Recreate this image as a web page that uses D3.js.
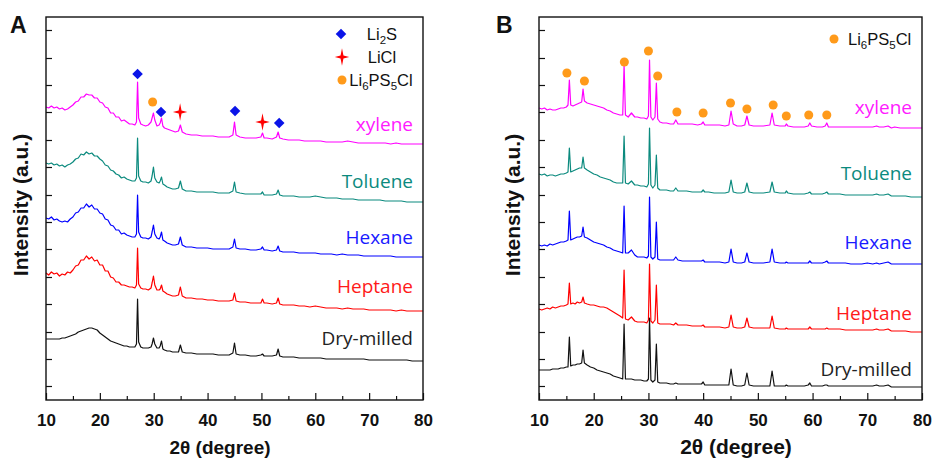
<!DOCTYPE html>
<html>
<head>
<meta charset="utf-8">
<script src="https://cdn.jsdelivr.net/npm/d3@7"></script>
<style>
  html, body { margin: 0; padding: 0; background: #fff; }
  svg { display: block; }
</style>
</head>
<body>
<div id="chart"></div>
<script>
// ---- data (intensity in a.u., stacked traces) ----
const twoThetaA = [
  10, 10.5, 11, 11.5, 12, 12.5, 13, 13.5, 14, 14.5,
  15, 15.5, 16, 16.5, 17, 17.5, 18, 18.5, 19, 19.5,
  20, 20.5, 21, 21.5, 22, 22.5, 23, 23.5, 24, 24.5,
  25, 25.5, 26, 26.5, 26.8, 27, 27.2, 27.6,
  28, 28.5, 29, 29.5, 29.7, 29.95, 30.2, 30.6,
  31, 31.2, 31.45, 31.7, 32, 32.5, 33, 33.5,
  34, 34.6, 34.95, 35.3, 36, 37, 38, 39,
  40, 41, 42, 43, 44, 44.7, 45, 45.3,
  46, 47, 48, 49, 49.9, 50.2, 50.5, 51,
  52, 52.8, 53.1, 53.4, 54, 55, 56, 57,
  58, 59, 60, 61, 62, 63, 64, 65, 66, 67,
  68, 69, 70, 71, 72, 73, 74, 75, 76, 77, 78, 79, 80
]

const xyleneA = [
  293, 292, 294, 292, 293, 291, 292, 290, 291, 293,
  295, 298, 299, 303, 303, 306, 305, 305, 302, 302,
  298, 297, 293, 292, 287, 287, 283, 283, 279, 280,
  278, 276, 276, 275, 278, 318, 282, 276,
  275, 274, 275, 278, 282, 287, 280, 274,
  275, 277, 282, 274, 272, 271, 270, 269,
  268, 269, 275, 268, 266, 265, 265, 264,
  264, 264, 263, 263, 263, 265, 278, 265,
  263, 262, 262, 262, 263, 267, 262, 262,
  261, 263, 268, 262, 261, 260, 260, 260,
  259, 259, 259, 259, 258, 258, 258, 258, 259, 258,
  257, 257, 257, 257, 257, 257, 256, 257, 256, 256, 256, 256, 256
]
const tolueneA = [
  237, 236, 237, 235, 236, 234, 235, 233, 235, 236,
  238, 241, 242, 246, 245, 248, 246, 247, 244, 244,
  241, 239, 235, 234, 230, 229, 226, 225, 222, 223,
  221, 220, 219, 219, 222, 262, 224, 219,
  218, 218, 217, 219, 224, 233, 222, 218,
  217, 219, 223, 216, 215, 213, 212, 211,
  211, 212, 219, 211, 209, 209, 208, 208,
  208, 208, 207, 207, 207, 209, 218, 208,
  207, 206, 206, 206, 206, 208, 205, 205,
  205, 206, 210, 205, 204, 204, 204, 203,
  203, 203, 204, 203, 202, 202, 202, 201, 201, 201,
  200, 200, 200, 200, 200, 199, 199, 199, 199, 198, 198, 198, 198
]
const hexaneA = [
  182, 181, 183, 180, 181, 179, 178, 179, 178, 181,
  183, 187, 188, 192, 192, 196, 193, 195, 191, 191,
  187, 186, 181, 180, 175, 174, 170, 170, 166, 167,
  165, 164, 163, 163, 166, 205, 168, 163,
  162, 162, 161, 163, 168, 175, 166, 162,
  161, 163, 168, 160, 159, 157, 156, 155,
  155, 156, 163, 155, 153, 153, 152, 152,
  152, 151, 151, 151, 151, 153, 161, 152,
  151, 151, 150, 150, 151, 153, 150, 150,
  149, 150, 154, 149, 148, 148, 148, 147,
  147, 147, 147, 146, 146, 146, 145, 146, 145, 145,
  145, 144, 144, 144, 144, 144, 144, 143, 143, 143, 143, 143, 143
]
const heptaneA = [
  127, 125, 128, 126, 127, 124, 126, 125, 128, 127,
  130, 134, 135, 140, 140, 144, 141, 143, 139, 140,
  135, 135, 129, 129, 123, 122, 118, 118, 115, 115,
  114, 113, 113, 112, 115, 152, 116, 112,
  111, 111, 110, 112, 117, 124, 115, 110,
  110, 111, 115, 109, 108, 106, 105, 104,
  104, 105, 113, 104, 102, 102, 101, 101,
  100, 100, 99, 99, 99, 100, 107, 99,
  98, 98, 97, 97, 97, 101, 97, 97,
  96, 97, 102, 96, 95, 95, 95, 94,
  94, 93, 94, 93, 92, 92, 92, 91, 92, 91,
  91, 91, 90, 90, 90, 90, 90, 89, 90, 89, 89, 89, 89
]
const dryMilledA = [
  61, 61, 61, 61, 61, 61, 62, 62, 63, 64,
  65, 66, 68, 69, 70, 71, 72, 72, 71, 70,
  67, 65, 63, 61, 59, 58, 57, 56, 55, 54,
  54, 53, 53, 53, 56, 101, 58, 53,
  52, 52, 52, 53, 56, 62, 56, 52,
  52, 54, 59, 51, 50, 49, 49, 48,
  48, 48, 55, 48, 47, 47, 46, 46,
  46, 46, 45, 45, 45, 47, 57, 46,
  45, 45, 44, 44, 45, 46, 44, 44,
  44, 45, 51, 44, 43, 43, 43, 42,
  42, 42, 42, 42, 41, 41, 41, 41, 41, 41,
  41, 41, 40, 40, 40, 40, 40, 40, 40, 40, 39, 39, 39
]

const twoThetaB = [
  10, 10.5, 11, 11.5, 12, 12.5, 13, 13.5, 14, 14.5,
  15, 15.3, 15.55, 15.8, 16.2, 16.6, 17, 17.4,
  17.8, 18.05, 18.3, 18.8, 19.4, 20, 20.6, 21.2,
  21.8, 22.4, 23, 23.6, 24.2, 24.8, 25.3, 25.55,
  25.8, 26.3, 26.9, 27.5, 28, 28.6, 29.2, 29.7,
  30.0, 30.2, 30.45, 30.8, 31.2, 31.45, 31.7, 32.1,
  32.6, 33.3, 34, 34.6, 35, 35.4, 36.2, 37,
  38, 39, 39.7, 40, 40.3, 41, 42, 43,
  44, 44.7, 45.1, 45.5, 46.2, 47, 47.6, 48,
  48.4, 49.2, 50, 51, 52.2, 52.6, 53, 54,
  55, 55.2, 55.5, 56.5, 57.5, 58.5, 59.2, 59.5,
  59.8, 60.8, 61.8, 62.3, 62.6, 62.9, 64, 65,
  66, 67, 68, 69, 70, 71, 71.7, 72.2,
  73, 73.8, 74.4, 75, 76, 77, 78, 79, 80
]

const xyleneB = [
  292, 291, 292, 290, 291, 290, 290, 291, 292, 292,
  293, 295, 320, 295, 294, 295, 296, 297,
  298, 311, 299, 297, 296, 295, 294, 293,
  292, 290, 289, 287, 286, 285, 285, 335,
  285, 283, 287, 283, 283, 282, 282, 281,
  284, 340, 283, 280, 283, 317, 281, 278,
  277, 277, 276, 276, 280, 276, 276, 276,
  276, 275, 276, 278, 275, 275, 275, 275,
  274, 275, 289, 276, 274, 274, 275, 284,
  275, 274, 274, 274, 275, 287, 275, 274,
  274, 276, 274, 273, 273, 273, 274, 277,
  274, 273, 273, 274, 277, 273, 273, 273,
  273, 273, 273, 273, 273, 273, 274, 273,
  273, 274, 272, 273, 272, 272, 272, 272, 272
]
const tolueneB = [
  226, 225, 226, 224, 225, 225, 224, 225, 226, 226,
  227, 228, 252, 228, 229, 230, 231, 232,
  232, 243, 232, 230, 228, 226, 225, 223,
  222, 221, 220, 218, 217, 217, 217, 264,
  217, 216, 219, 215, 215, 214, 214, 213,
  216, 272, 215, 212, 215, 245, 212, 210,
  210, 210, 209, 209, 212, 209, 209, 209,
  208, 208, 208, 210, 208, 208, 207, 207,
  207, 208, 220, 208, 207, 207, 208, 217,
  208, 207, 207, 207, 208, 218, 208, 207,
  207, 209, 207, 206, 206, 206, 207, 208,
  206, 206, 206, 207, 208, 206, 206, 206,
  205, 205, 205, 205, 205, 205, 206, 205,
  205, 206, 204, 204, 204, 204, 203, 203, 203
]
const hexaneB = [
  155, 154, 155, 154, 156, 155, 156, 157, 158, 158,
  159, 160, 189, 160, 161, 162, 163, 163,
  164, 173, 163, 162, 160, 158, 157, 156,
  155, 153, 152, 150, 149, 148, 147, 194,
  147, 147, 150, 145, 143, 143, 143, 142,
  144, 203, 143, 141, 143, 178, 141, 140,
  140, 140, 140, 140, 143, 140, 139, 139,
  139, 139, 139, 140, 138, 138, 138, 138,
  137, 138, 151, 138, 137, 137, 138, 147,
  138, 137, 137, 137, 138, 151, 138, 137,
  137, 138, 137, 137, 137, 137, 137, 139,
  137, 137, 137, 138, 139, 137, 137, 137,
  137, 136, 136, 136, 137, 136, 137, 136,
  137, 138, 136, 136, 136, 136, 136, 136, 136
]
const heptaneB = [
  91, 90, 91, 92, 91, 93, 92, 93, 94, 94,
  95, 96, 117, 96, 97, 96, 98, 97,
  98, 103, 97, 96, 95, 95, 94, 93,
  93, 92, 90, 88, 86, 84, 82, 130,
  81, 80, 83, 79, 78, 78, 78, 77,
  80, 136, 79, 77, 80, 115, 77, 76,
  76, 76, 76, 75, 77, 75, 75, 75,
  74, 74, 74, 75, 73, 73, 73, 73,
  72, 73, 85, 73, 72, 72, 73, 82,
  73, 72, 72, 72, 72, 84, 72, 71,
  71, 72, 71, 71, 71, 71, 71, 73,
  71, 71, 71, 71, 72, 71, 71, 71,
  70, 70, 70, 70, 70, 70, 71, 70,
  70, 71, 69, 69, 69, 69, 68, 68, 68
]
const dryMilledB = [
  30, 30, 30, 30, 30, 31, 31, 31, 32, 32,
  33, 33, 63, 34, 35, 35, 36, 36,
  37, 50, 37, 35, 33, 32, 30, 29,
  28, 27, 26, 24, 23, 22, 21, 76,
  21, 21, 21, 20, 20, 20, 19, 19,
  21, 82, 20, 18, 20, 56, 18, 17,
  17, 17, 16, 16, 17, 16, 16, 16,
  16, 16, 16, 18, 15, 15, 15, 15,
  15, 15, 31, 15, 14, 14, 15, 27,
  15, 14, 14, 14, 14, 29, 14, 14,
  14, 15, 14, 14, 14, 14, 15, 17,
  14, 14, 14, 15, 15, 14, 14, 14,
  14, 14, 14, 14, 14, 14, 15, 14,
  14, 15, 13, 13, 13, 13, 13, 13, 13
]

const sampleNames = ["xylene", "Toluene", "Hexane", "Heptane", "Dry-milled"]

// phase markers [2theta, intensity]
const li2sMarksA = [[27.0, 326], [31.35, 288], [45.1, 289], [53.3, 277]]
const liclMarksA = [[34.9, 288], [50.2, 278]]
const argMarksA = [[29.8, 298]]
const argMarksB = [
  [15.1, 327], [18.3, 319], [25.6, 338], [30.0, 349], [31.7, 324],
  [35.2, 288], [40.0, 287], [45.0, 297], [48.0, 291], [52.8, 295],
  [55.2, 284], [59.3, 285], [62.6, 285]
]

const xMajor = [10, 20, 30, 40, 50, 60, 70, 80]
const xMinor = [15, 25, 35, 45, 55, 65, 75]
const yTicks = [14, 41, 68, 96, 123, 151, 178, 205, 233, 260, 288, 315, 342, 370]

// ---- style / layout ----
const traceColors = ["#ff00ff", "#0b8a7e", "#0000ff", "#ff0000", "#111111"]
const labelColors = ["#ff1aff", "#0b8a7e", "#1a1aff", "#ff1a1a", "#222222"]
const diamondColor = "#0a14e8"
const starColor = "#ff0000"
const circleColor = "#ff9a1a"
const legendFont = "'Liberation Sans', Arial, sans-serif"

const panels = [
  {
    letter: "A", left: 46, right: 423, top: 17, bottom: 400,
    grid: twoThetaA,
    series: [xyleneA, tolueneA, hexaneA, heptaneA, dryMilledA],
    labelY: [125, 182, 238, 287, 339],
    titleX: 220, titleSize: 19, ylabelX: 20
  },
  {
    letter: "B", left: 539, right: 922, top: 17, bottom: 400,
    grid: twoThetaB,
    series: [xyleneB, tolueneB, hexaneB, heptaneB, dryMilledB],
    labelY: [108, 174, 243, 314, 370],
    titleX: 736, titleSize: 21, ylabelX: 512
  }
]

panels.forEach(p => p.series.forEach((s, i) => {
  if (s.length !== p.grid.length) throw new Error(`panel ${p.letter} series ${i}: ${s.length} vs ${p.grid.length}`)
}))

const width = 933, height = 465
const svg = d3.select("#chart").append("svg")
  .attr("width", width).attr("height", height)
  .attr("viewBox", `0 0 ${width} ${height}`)

svg.append("rect").attr("width", width).attr("height", height).attr("fill", "#fff")

// 4-point star used for LiCl
const star4 = {
  draw(ctx, size) {
    const rx = Math.sqrt(size), ry = rx * 1.22, w = rx * 0.2
    ctx.moveTo(0, -ry)
    ctx.lineTo(w, -w)
    ctx.lineTo(rx, 0)
    ctx.lineTo(w, w)
    ctx.lineTo(0, ry)
    ctx.lineTo(-w, w)
    ctx.lineTo(-rx, 0)
    ctx.lineTo(-w, -w)
    ctx.closePath()
  }
}

const diamondPath = d3.symbol(d3.symbolSquare, 56)()
const circlePath = d3.symbol(d3.symbolCircle, 64)()
const starPath = d3.symbol(star4, 52)()

function drawDiamond(g, x, y) {
  g.append("path").attr("d", diamondPath)
    .attr("transform", `translate(${x},${y}) rotate(45)`)
    .attr("fill", diamondColor)
}
function drawCircle(g, x, y) {
  g.append("path").attr("d", circlePath)
    .attr("transform", `translate(${x},${y})`)
    .attr("fill", circleColor)
}
function drawStar(g, x, y) {
  g.append("path").attr("d", starPath)
    .attr("transform", `translate(${x},${y})`)
    .attr("fill", starColor)
}

// text with subscript parts: [text, isSub]
function formula(g, x, y, parts, anchor) {
  const t = g.append("text")
    .attr("x", x).attr("y", y)
    .attr("text-anchor", anchor)
    .attr("font-family", legendFont)
    .attr("font-size", "16.5px")
    .attr("fill", "#111")
  let shift = 0
  parts.forEach(([s, sub]) => {
    const target = sub ? 3.5 : 0
    t.append("tspan")
      .attr("font-size", sub ? "11.5px" : "16.5px")
      .attr("dy", target - shift)
      .text(s)
    shift = target
  })
  return t
}

const argParts = [["Li", false], ["6", true], ["PS", false], ["5", true], ["Cl", false]]

panels.forEach(p => {
  const x = d3.scaleLinear().domain([10, 80]).range([p.left, p.right])
  const y = d3.scaleLinear().domain([0, 383]).range([p.bottom, p.top])
  const g = svg.append("g")

  // traces
  const line = d3.line().x(d => x(d[0])).y(d => y(d[1]))
  p.series.forEach((s, i) => {
    g.append("path")
      .datum(p.grid.map((t, k) => [t, s[k]]))
      .attr("d", line)
      .attr("fill", "none")
      .attr("stroke", traceColors[i])
      .attr("stroke-width", 1.2)
      .attr("stroke-linejoin", "round")
  })

  // sample labels
  sampleNames.forEach((name, i) => {
    g.append("text")
      .attr("x", p.right - 10)
      .attr("y", p.labelY[i] + 6)
      .attr("text-anchor", "end")
      .attr("font-family", "'Open Sans', 'DejaVu Sans', sans-serif")
      .attr("font-size", "19px")
      .attr("fill", labelColors[i])
      .text(name)
  })

  // axes (ticks point inward)
  const xAxis = g.append("g").attr("transform", `translate(0,${p.bottom})`)
    .call(d3.axisBottom(x).tickValues(xMajor).tickSize(-7).tickFormat(d3.format("d")))
  xAxis.selectAll("text")
    .attr("y", 25.5).attr("dy", null)
    .attr("font-family", "'Liberation Sans', Arial, sans-serif")
    .attr("font-weight", "bold")
    .attr("font-size", "17px")
    .attr("fill", "#111")
  g.append("g").attr("transform", `translate(0,${p.bottom})`)
    .call(d3.axisBottom(x).tickValues(xMinor).tickSize(-4).tickFormat(""))
  g.append("g").attr("transform", `translate(${p.left},0)`)
    .call(d3.axisLeft(y).tickValues(yTicks).tickSize(-6).tickFormat(""))
  g.selectAll(".domain").remove()
  g.selectAll(".tick line").attr("stroke", "#111").attr("stroke-width", 1.2)

  g.append("rect")
    .attr("x", p.left).attr("y", p.top)
    .attr("width", p.right - p.left).attr("height", p.bottom - p.top)
    .attr("fill", "none").attr("stroke", "#111").attr("stroke-width", 1.4)

  // axis titles
  g.append("text")
    .attr("x", p.titleX).attr("y", 454)
    .attr("text-anchor", "middle")
    .attr("font-family", "'Liberation Sans', Arial, sans-serif")
    .attr("font-weight", "bold")
    .attr("font-size", p.titleSize + "px")
    .attr("fill", "#111")
    .text("2\u03b8 (degree)")
  g.append("text")
    .attr("transform", `translate(${p.ylabelX + 8},205) rotate(-90)`)
    .attr("text-anchor", "middle")
    .attr("font-family", "'Liberation Sans', Arial, sans-serif")
    .attr("font-weight", "bold")
    .attr("font-size", "21px")
    .attr("fill", "#111")
    .text("Intensity (a.u.)")

  // panel letter
  g.append("text")
    .attr("x", p.letter === "A" ? 10 : 496).attr("y", 33)
    .attr("font-family", "'Liberation Sans', Arial, sans-serif")
    .attr("font-weight", "bold")
    .attr("font-size", "23px")
    .attr("fill", "#111")
    .text(p.letter)

  if (p.letter === "A") {
    li2sMarksA.forEach(d => drawDiamond(g, x(d[0]), y(d[1])))
    liclMarksA.forEach(d => drawStar(g, x(d[0]), y(d[1])))
    argMarksA.forEach(d => drawCircle(g, x(d[0]), y(d[1])))
    // legend
    drawDiamond(g, 341, 34)
    formula(g, 382, 40, [["Li", false], ["2", true], ["S", false]], "middle")
    drawStar(g, 342, 57)
    formula(g, 382, 63, [["LiCl", false]], "middle")
    drawCircle(g, 342, 80)
    formula(g, 381, 86, argParts, "middle")
  } else {
    argMarksB.forEach(d => drawCircle(g, x(d[0]), y(d[1])))
    drawCircle(g, 834, 39)
    formula(g, 848, 45, argParts, "start")
  }
})
</script>
</body>
</html>
